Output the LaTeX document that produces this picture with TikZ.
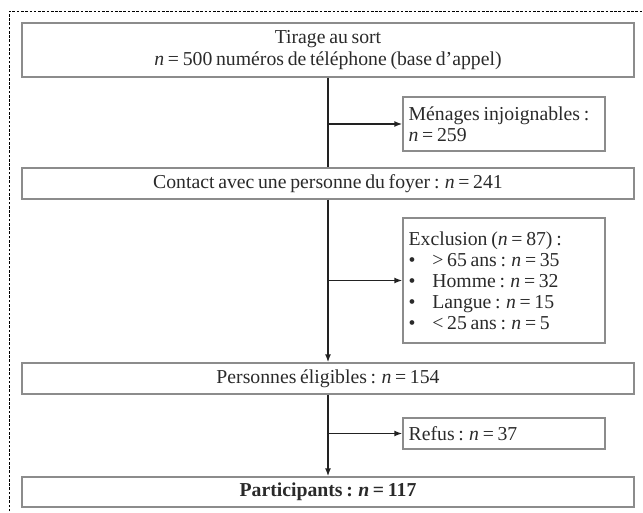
\documentclass[tikz,border=0pt]{standalone}
\usepackage{fontspec}
\setmainfont{Liberation Serif}[WordSpace=0.75]
\usepackage{tikz}
\usetikzlibrary{arrows.meta,positioning}
\definecolor{boxgray}{HTML}{8C8C8C}
\definecolor{flowblack}{HTML}{222222}
\definecolor{textgray}{HTML}{2A2A2A}

\begin{document}
\begin{tikzpicture}[x=0.75pt,y=-0.75pt,
 font=\fontsize{14.8}{15.75}\selectfont, text=textgray,
 wide/.style={rectangle,draw=boxgray,line width=1pt,minimum width=459pt,inner sep=0pt,align=center},
 side/.style={rectangle,draw=boxgray,line width=1pt,text width=143pt,minimum width=151.5pt,inner xsep=4pt,inner ysep=0pt,align=left,
  execute at begin node={\spaceskip0pt\xspaceskip0pt}},
 flow/.style={draw=flowblack,line width=1.3pt},
 arr/.style={flow,-{Latex[length=6pt,width=4.5pt]}}]
\useasboundingbox (0,0) rectangle (643,513);
\draw[dashed,dash pattern=on 2pt off 1.2pt,line width=0.5pt] (9,520) -- (9,11.5) -- (650,11.5);
\node[wide,minimum height=40.5pt] (tirage) at (328,50) {Tirage au sort\\[1pt]\textit{n} = 500 numéros de téléphone (base d’appel)};
\node[side,minimum height=40.5pt] (menages) at (504,124) {Ménages injoignables :\\\textit{n} = 259};
\node[wide,minimum height=23.25pt] (contact) at (328,183.5) {Contact avec une personne du foyer : \textit{n} = 241};
\node[side,minimum height=93.75pt] (exclusion) at (504,280.5) {Exclusion (\textit{n} = 87) :\\
 \makebox[1.2em][l]{•}> 65 ans : \textit{n} = 35\\
 \makebox[1.2em][l]{•}Homme : \textit{n} = 32\\
 \makebox[1.2em][l]{•}Langue : \textit{n} = 15\\
 \makebox[1.2em][l]{•}< 25 ans : \textit{n} = 5};
\node[wide,minimum height=23.25pt] (eligibles) at (328,378.5) {Personnes éligibles : \textit{n} = 154};
\node[side,minimum height=23.25pt] (refus) at (504,433.5) {Refus : \textit{n} = 37};
\node[wide,minimum height=22.5pt] (participants) at (328,492) {\textbf{Participants : \textit{n} = 117}};
\draw[flow] (tirage) -- (contact);
\draw[arr] (tirage.south |- menages.west) -- (menages.west);
\draw[arr] (contact) -- (eligibles);
\draw[arr] (contact.south |- exclusion.west) -- (exclusion.west);
\draw[arr] (eligibles) -- (participants);
\draw[arr] (eligibles.south |- refus.west) -- (refus.west);
\end{tikzpicture}
\end{document}
